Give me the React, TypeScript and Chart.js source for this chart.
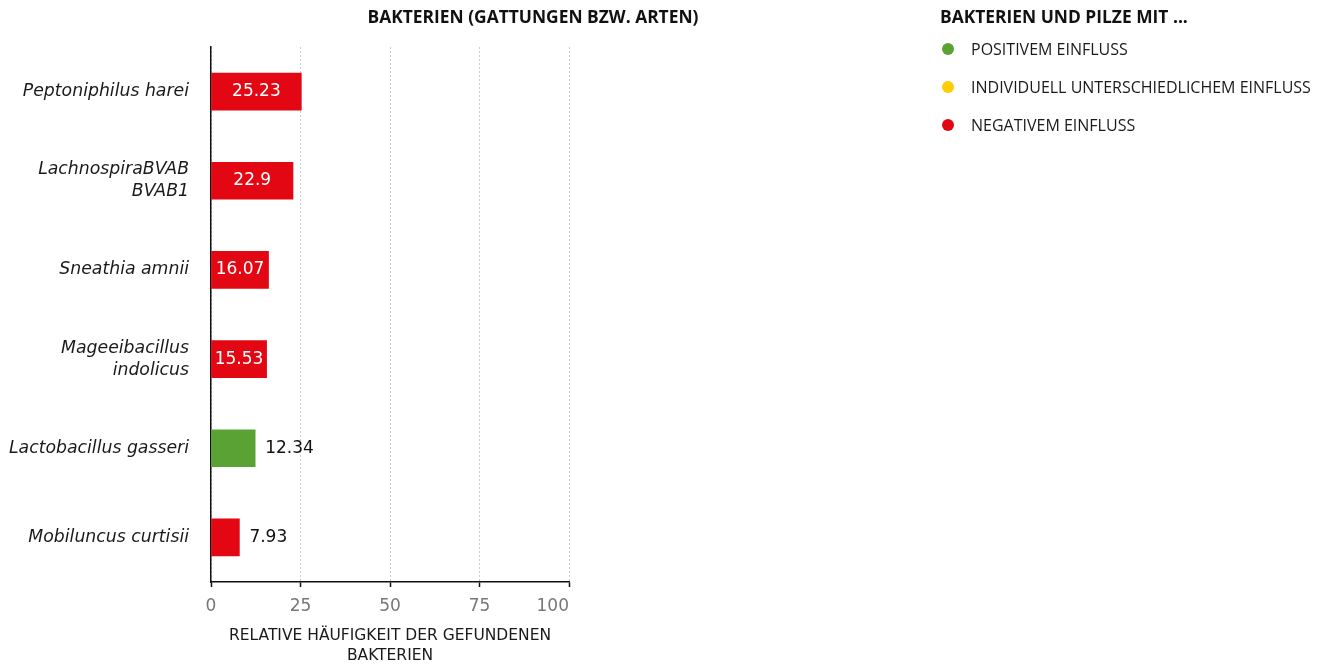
import React, { useEffect, useRef } from 'react';
import { Chart, registerables } from 'chart.js';

Chart.register(...registerables);

const categories: string[][] = [
  ['Peptoniphilus harei'],
  ['LachnospiraBVAB', 'BVAB1'],
  ['Sneathia amnii'],
  ['Mageeibacillus', 'indolicus'],
  ['Lactobacillus gasseri'],
  ['Mobiluncus curtisii'],
];
const values = [25.23, 22.9, 16.07, 15.53, 12.34, 7.93];
const effects = ['negative', 'negative', 'negative', 'negative', 'positive', 'negative'];
const xTickValues = [0, 25, 50, 75, 100];
const chartTitle = 'BAKTERIEN (GATTUNGEN BZW. ARTEN)';
const xAxisTitle = ['RELATIVE HÄUFIGKEIT DER GEFUNDENEN', 'BAKTERIEN'];
const legendTitle = 'BAKTERIEN UND PILZE MIT ...';
const legendKeys = ['positive', 'mixed', 'negative'];
const legendLabels = ['POSITIVEM EINFLUSS', 'INDIVIDUELL UNTERSCHIEDLICHEM EINFLUSS', 'NEGATIVEM EINFLUSS'];

const effectColors: Record<string, string> = {
  positive: '#5ba234',
  mixed: '#ffcc00',
  negative: '#e30613',
};

const valueFont = '17px "DejaVu Sans"';
const tickFont = '17px "DejaVu Sans"';

const tickLabelPlugin = {
  id: 'customTickLabels',
  afterDraw(chart: any) {
    const x = chart.scales.x;
    const ctx = chart.ctx;
    ctx.save();
    ctx.font = tickFont;
    ctx.fillStyle = '#777777';
    ctx.textBaseline = 'middle';
    const y = x.top + 25;
    xTickValues.forEach((v, i) => {
      const px = x.getPixelForValue(v);
      ctx.textAlign = i === xTickValues.length - 1 ? 'right' : 'center';
      ctx.fillText(String(v), px, y);
    });
    ctx.restore();
  },
};

const valueLabelPlugin = {
  id: 'valueLabels',
  afterDatasetsDraw(chart: any) {
    const ctx = chart.ctx;
    const meta = chart.getDatasetMeta(0);
    ctx.save();
    ctx.font = valueFont;
    ctx.textBaseline = 'middle';
    meta.data.forEach((bar: any, i: number) => {
      const text = String(values[i]);
      const w = ctx.measureText(text).width;
      const barW = bar.x - bar.base;
      if (w + 6 <= barW) {
        ctx.fillStyle = '#ffffff';
        ctx.textAlign = 'center';
        ctx.fillText(text, (bar.x + bar.base) / 2, bar.y);
      } else {
        ctx.fillStyle = '#111111';
        ctx.textAlign = 'left';
        ctx.fillText(text, bar.x + 10, bar.y);
      }
    });
    ctx.restore();
  },
};

function ChartCanvas() {
  const ref = useRef<HTMLCanvasElement | null>(null);
  useEffect(() => {
    if (!ref.current) return;
    const chart = new Chart(ref.current, {
      type: 'bar',
      data: {
        labels: categories,
        datasets: [
          {
            data: values,
            backgroundColor: effects.map((e) => effectColors[e]),
            borderWidth: 0,
            barThickness: 37,
          },
        ],
      },
      options: {
        indexAxis: 'y',
        animation: false,
        responsive: false,
        devicePixelRatio: 1,
        layout: { padding: { left: 0, top: 47, right: 749, bottom: 0 } },
        plugins: {
          legend: { display: false },
          title: { display: false },
          tooltip: { enabled: false },
        },
        scales: {
          x: {
            min: 0,
            max: 100,
            ticks: { stepSize: 25, display: false },
            grid: {
              color: '#cccccc',
              lineWidth: 1,
              drawTicks: true,
              tickLength: 5,
              tickColor: '#111111',
              tickWidth: 1.5,
              tickBorderDash: [],
            },
            border: { display: true, color: '#111111', width: 1.5, dash: [2, 2] },
            title: {
              display: true,
              text: xAxisTitle,
              color: '#1a1a1a',
              font: { family: '"DejaVu Sans"', size: 15.5, lineHeight: 20 / 15.5 },
              padding: { top: 0, bottom: -2 },
            },
            afterFit(scale: any) {
              scale.height = 82;
            },
          },
          y: {
            grid: { display: false, drawTicks: false },
            border: { display: true, color: '#111111', width: 1.5 },
            ticks: {
              color: '#1a1a1a',
              padding: 22,
              font: { family: '"DejaVu Sans"', style: 'italic', size: 17.3, lineHeight: 22 / 17.3 },
            },
            afterFit(scale: any) {
              scale.width = 211;
            },
          },
        },
      },
      plugins: [tickLabelPlugin, valueLabelPlugin],
    } as any);
    return () => chart.destroy();
  }, []);
  return <canvas ref={ref} width={1318} height={664} style={{ width: 1318, height: 664, display: 'block' }} />;
}

export default function App() {
  return (
    <div style={{ position: 'fixed', left: 0, top: 0, width: 1318, height: 664, background: '#fff', overflow: 'hidden' }}>
      <ChartCanvas />
      <div
        style={{
          position: 'absolute',
          left: 0,
          width: 1066,
          top: 4,
          textAlign: 'center',
          fontFamily: '"Open Sans"',
          fontWeight: 700,
          fontSize: 17.4,
          lineHeight: '24px',
          color: '#111',
          whiteSpace: 'nowrap',
        }}
      >
        {chartTitle}
      </div>
      <div style={{ position: 'absolute', left: 940, top: 4, fontFamily: '"Open Sans"', color: '#1a1a1a', whiteSpace: 'nowrap' }}>
        <div style={{ fontWeight: 700, fontSize: 17.4, lineHeight: '24px', color: '#111' }}>{legendTitle}</div>
        {legendKeys.map((k, i) => (
          <div key={k} style={{ display: 'flex', alignItems: 'center', height: 38, marginTop: i === 0 ? 2 : 0 }}>
            <span
              style={{
                width: 12,
                height: 12,
                borderRadius: 6,
                background: effectColors[k],
                marginLeft: 2,
                marginRight: 17,
                display: 'inline-block',
                flex: 'none',
              }}
            />
            <span style={{ fontSize: 16, lineHeight: '20px' }}>{legendLabels[i]}</span>
          </div>
        ))}
      </div>
    </div>
  );
}
